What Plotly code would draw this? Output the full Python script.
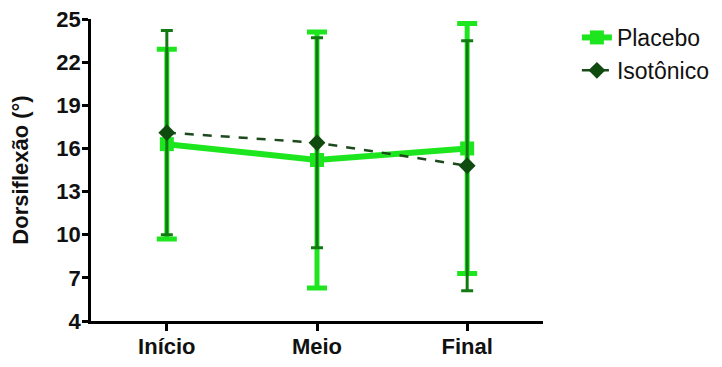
import plotly.graph_objects as go

categories = ["Início", "Meio", "Final"]
placebo_mean = [16.3, 15.2, 16.0]
placebo_sd = [6.6, 8.9, 8.7]
iso_mean = [17.1, 16.4, 14.8]
iso_sd = [7.1, 7.3, 8.7]
y_ticks = [4, 7, 10, 13, 16, 19, 22, 25]

fig = go.Figure()
fig.add_trace(go.Scatter(
    x=categories, y=placebo_mean, name="Placebo", mode="lines+markers",
    line=dict(color="#1ee61e", width=6),
    marker=dict(symbol="square", size=14, color="#1ee61e"),
    error_y=dict(type="data", array=placebo_sd, visible=True,
                 color="#1ee61e", thickness=5, width=10),
))
fig.add_trace(go.Scatter(
    x=categories, y=iso_mean, name="Isotônico", mode="lines+markers",
    line=dict(color="#1d4a1d", width=2.5, dash="dash"),
    marker=dict(symbol="diamond", size=13, color="#0f4a0f"),
    error_y=dict(type="data", array=iso_sd, visible=True,
                 color="#127a12", thickness=3, width=6),
))

font_family = "Liberation Sans, Arial, sans-serif"
fig.update_layout(
    width=712, height=351,
    margin=dict(l=83, r=177, t=11, b=38, autoexpand=False),
    paper_bgcolor="white", plot_bgcolor="white",
    font=dict(family=font_family, color="#111111"),
    showlegend=True,
    legend=dict(x=1.075, y=1.01, xanchor="left", yanchor="top",
                font=dict(size=23, family=font_family),
                tracegroupgap=0, bgcolor="rgba(0,0,0,0)"),
    xaxis=dict(
        type="category", range=[-0.505, 2.505],
        showline=True, linecolor="black", linewidth=2.5,
        ticks="outside", ticklen=7, tickwidth=2.5, tickcolor="black",
        ticklabelstandoff=-3,
        tickfont=dict(size=22, family=font_family, weight="bold"),
        showgrid=False, zeroline=False,
    ),
    yaxis=dict(
        range=[4, 25.005], tickvals=y_ticks,
        showline=True, linecolor="black", linewidth=2.5,
        ticks="outside", ticklen=6, tickwidth=2.5, tickcolor="black",
        ticklabelstandoff=-3, ticklabeloverflow="allow",
        tickfont=dict(size=22, family=font_family, weight="bold"),
        showgrid=False, zeroline=False,
        title=dict(text="Dorsiflexão (°)", standoff=22,
                   font=dict(size=22, family=font_family, weight="bold")),
    ),
)

fig.write_html("out.html")
